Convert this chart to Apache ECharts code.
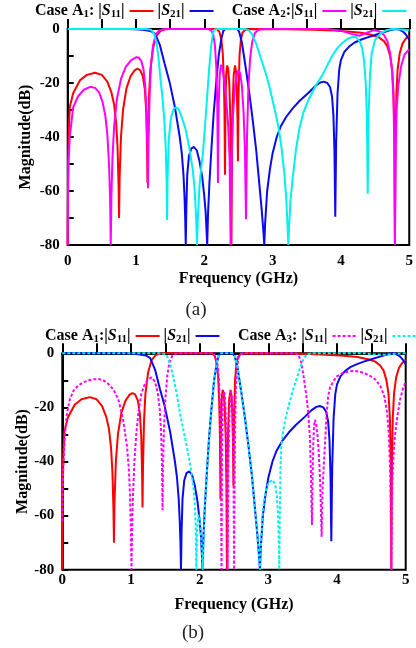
<!DOCTYPE html>
<html>
<head>
<meta charset="utf-8">
<script src="https://cdn.jsdelivr.net/npm/echarts@6/dist/echarts.min.js"></script>
<style>
  html, body { margin: 0; padding: 0; background: #fff; }
  #chart { width: 416px; height: 648px; }
</style>
</head>
<body>
<div id="chart"></div>
<script>
// Frequency responses, [frequency (GHz), magnitude (dB)]

// Case A1, |S11|
const a1S11 = [
  [0,-80],[0.005,-50],[0.015,-38],[0.03,-29],[0.08,-23.8],[0.18,-19],[0.28,-17],[0.4,-16.2],[0.5,-17],[0.58,-19.5],
  [0.64,-23.5],[0.68,-28],[0.71,-35],[0.73,-44],[0.745,-58],[0.752,-70],[0.76,-55],[0.78,-40],[0.81,-30],[0.86,-22],
  [0.92,-17.5],[0.98,-15.3],[1.02,-14.7],[1.06,-15.2],[1.1,-17.5],[1.13,-22.5],[1.15,-31],[1.162,-45],[1.168,-57],
  [1.175,-42],[1.19,-25],[1.21,-15],[1.25,-7],[1.3,-2.5],[1.36,-0.7],[1.42,-0.1],[1.5,0],
  [2.18,0],[2.22,-1],[2.25,-4],[2.27,-9],[2.285,-18],[2.295,-30],[2.303,-54],[2.31,-28],[2.32,-17],[2.335,-13.5],
  [2.35,-15],[2.365,-20],[2.38,-32],[2.39,-50],[2.397,-80],[2.405,-45],[2.415,-28],[2.43,-17],[2.45,-13.5],
  [2.465,-16],[2.475,-22],[2.485,-33],[2.492,-49],[2.5,-26],[2.515,-10],[2.535,-4],[2.56,-1.3],[2.6,-0.3],[2.7,0],
  [3.2,-0.1],[3.6,-0.3],[3.9,-0.6],[4.1,-0.9],[4.3,-1.4],[4.45,-2.2],[4.55,-3],[4.63,-4.5],[4.68,-6.5],[4.72,-10],
  [4.75,-15],[4.77,-24],[4.783,-40],[4.79,-80],[4.8,-40],[4.812,-24],[4.83,-15],[4.86,-9],[4.9,-5.5],[4.95,-3.5],[5,-2.5]
];

// Case A1, |S21|
const a1S21 = [
  [0,0],[0.9,0],[1.05,-0.2],[1.15,-0.5],[1.22,-0.8],[1.28,-1.8],[1.35,-6],[1.42,-13],[1.49,-19.5],[1.57,-29],
  [1.64,-40],[1.67,-46],[1.695,-54],[1.71,-62],[1.72,-70],[1.728,-80],[1.737,-66],[1.75,-54],[1.775,-47],[1.81,-44.2],
  [1.85,-43.7],[1.89,-45],[1.93,-49],[1.97,-55],[2.0,-62],[2.02,-68],[2.035,-76],[2.042,-80],[2.055,-68],[2.075,-57],
  [2.1,-46],[2.135,-32],[2.17,-21],[2.21,-10],[2.25,-3.5],[2.28,-0.6],[2.31,0],[2.48,0],[2.51,-1],[2.55,-5],
  [2.61,-15],[2.66,-24],[2.71,-34],[2.76,-45],[2.8,-56],[2.84,-67],[2.865,-75],[2.878,-80],[2.89,-72],[2.92,-60],
  [2.96,-52],[3.0,-46],[3.06,-40],[3.12,-36],[3.2,-32.5],[3.3,-29.2],[3.4,-26.5],[3.53,-23.5],[3.63,-21],[3.7,-19.8],
  [3.75,-19.5],[3.8,-20],[3.84,-21.5],[3.87,-25],[3.89,-32],[3.905,-45],[3.917,-69.5],[3.93,-42],[3.95,-24],
  [3.975,-15],[4.0,-11.5],[4.05,-8.5],[4.12,-6.5],[4.2,-5],[4.3,-3.9],[4.4,-3],[4.5,-2.2],[4.6,-1.4],[4.7,-0.6],
  [4.78,-0.1],[4.82,0],[4.87,-0.4],[4.92,-1.2],[4.96,-2.4],[5,-4]
];

// Case A2, |S11|
const a2S11 = [
  [0,-80],[0.005,-60],[0.015,-48],[0.03,-40],[0.08,-29],[0.15,-25],[0.23,-22.6],[0.33,-21.4],[0.4,-21.8],[0.46,-23.5],
  [0.51,-27],[0.55,-32],[0.58,-39],[0.605,-50],[0.62,-62],[0.63,-80],[0.64,-62],[0.655,-48],[0.68,-36],[0.72,-26],
  [0.78,-18.5],[0.85,-14],[0.93,-11.5],[1.0,-10.5],[1.04,-10.6],[1.08,-12],[1.11,-15],[1.135,-21],[1.155,-32],
  [1.168,-45],[1.175,-59],[1.183,-42],[1.2,-24],[1.22,-13],[1.25,-6],[1.29,-2],[1.34,-0.5],[1.4,-0.1],[1.5,0],
  [2.06,0],[2.1,-0.5],[2.13,-2],[2.155,-6],[2.175,-14],[2.19,-28],[2.2,-57],[2.21,-28],[2.225,-17],[2.245,-13.3],
  [2.265,-14.5],[2.29,-19],[2.32,-26],[2.35,-36],[2.37,-48],[2.385,-80],[2.4,-48],[2.42,-32],[2.45,-21],[2.48,-16.5],
  [2.5,-15.2],[2.525,-16.5],[2.55,-21],[2.575,-31],[2.595,-45],[2.61,-70.5],[2.625,-40],[2.645,-22],[2.67,-11],
  [2.7,-5],[2.74,-1.5],[2.8,-0.2],[2.9,0],
  [3.8,0],[4.0,-0.6],[4.15,-1.8],[4.27,-2.5],[4.38,-1.4],[4.48,-0.4],[4.56,-0.8],[4.63,-2.2],[4.68,-4.5],[4.72,-9],
  [4.75,-16],[4.77,-27],[4.782,-45],[4.79,-80],[4.8,-48],[4.815,-30],[4.84,-21],[4.88,-14],[4.93,-9.5],[5,-7.5]
];

// Case A2, |S21|
const a2S21 = [
  [0,0],[1.15,0],[1.22,-0.3],[1.26,-1.5],[1.3,-5],[1.33,-11],[1.36,-19],[1.39,-26],[1.415,-34],[1.435,-44],
  [1.448,-56],[1.455,-70.7],[1.463,-55],[1.48,-41],[1.51,-33],[1.55,-29.6],[1.59,-29],[1.63,-30],[1.68,-33.5],
  [1.73,-37.5],[1.78,-44],[1.83,-52],[1.86,-60],[1.88,-70],[1.893,-80],[1.905,-70],[1.93,-58],[1.96,-50],[1.98,-46],
  [2.03,-29],[2.07,-15],[2.1,-6.5],[2.125,-1.6],[2.15,-0.2],[2.2,0],[2.6,0],[2.65,-0.5],[2.7,-2],[2.76,-5.5],
  [2.83,-11],[2.9,-16.5],[2.95,-21],[3.0,-26.5],[3.05,-32],[3.09,-37],[3.13,-44],[3.17,-53],[3.2,-63],[3.22,-74],
  [3.23,-80],[3.24,-74],[3.26,-64],[3.29,-56],[3.34,-45],[3.39,-37],[3.45,-31],[3.53,-26],[3.63,-21],[3.73,-17],
  [3.8,-13.5],[3.87,-10],[3.95,-7],[4.02,-5.2],[4.1,-3.6],[4.17,-2.9],[4.22,-3],[4.27,-4.4],[4.31,-7],[4.34,-12],
  [4.365,-21],[4.38,-33],[4.392,-61],[4.405,-32],[4.425,-17],[4.45,-9],[4.5,-4],[4.58,-1.6],[4.66,-0.5],[4.75,0],
  [4.9,-0.2],[5,-0.5]
];

// Case A3, |S11|
const a3S11 = [
  [0,-62],[0.005,-50],[0.015,-42],[0.04,-29],[0.07,-22],[0.11,-17],[0.17,-13.5],[0.23,-12],[0.3,-10.8],[0.38,-10],
  [0.46,-9.6],[0.53,-9.5],[0.6,-10],[0.67,-11.3],[0.73,-13],[0.77,-14.5],[0.82,-17.5],[0.86,-21.5],[0.9,-27],
  [0.94,-34],[0.97,-43],[0.985,-52],[0.997,-64],[1.007,-80],[1.017,-64],[1.03,-52],[1.05,-40],[1.08,-29],
  [1.11,-21.6],[1.15,-15],[1.2,-11.5],[1.25,-9.6],[1.3,-8.9],[1.35,-10.5],[1.39,-14.5],[1.42,-21],[1.44,-30],
  [1.452,-42],[1.46,-58],[1.468,-40],[1.48,-28],[1.5,-17],[1.53,-8],[1.56,-3.3],[1.6,-1],[1.65,-0.2],[1.7,0],
  [2.2,0],[2.24,-1.5],[2.265,-5],[2.285,-12],[2.3,-25],[2.31,-45],[2.318,-80],[2.326,-40],[2.335,-22],[2.35,-14.2],
  [2.365,-15],[2.38,-22],[2.395,-40],[2.408,-80],[2.42,-40],[2.435,-22],[2.45,-14.2],[2.465,-15],[2.48,-22],
  [2.492,-42],[2.502,-80],[2.512,-38],[2.525,-15],[2.545,-5],[2.57,-1.3],[2.6,-0.2],[2.65,0],
  [3.4,0],[3.44,-0.6],[3.48,-3.5],[3.51,-8],[3.55,-15],[3.58,-21.6],[3.605,-31],[3.622,-46],[3.635,-63.5],
  [3.645,-45],[3.655,-33],[3.665,-27],[3.678,-24.6],[3.695,-26],[3.715,-30],[3.735,-37],[3.755,-48],[3.776,-67.8],
  [3.79,-50],[3.81,-40],[3.824,-34],[3.845,-24],[3.87,-16],[3.9,-12.5],[3.99,-8.6],[4.08,-7.3],[4.18,-6.7],
  [4.26,-6.5],[4.36,-7],[4.46,-8],[4.55,-9.5],[4.63,-12],[4.69,-16],[4.73,-22],[4.755,-30],[4.775,-45],[4.792,-80],
  [4.805,-48],[4.825,-36],[4.85,-29],[4.88,-23],[4.92,-17],[4.96,-13],[5,-10.5]
];

// Case A3, |S21|
const a3S21 = [
  [0,0],[1.4,0],[1.48,-0.2],[1.52,-0.6],[1.57,-4],[1.62,-9.2],[1.67,-15.5],[1.71,-21.6],[1.76,-28],[1.81,-34],
  [1.85,-39.5],[1.88,-44],[1.91,-50],[1.93,-56],[1.942,-64],[1.952,-80],[1.962,-66],[1.975,-61],[1.985,-59.7],
  [1.998,-61],[2.015,-65],[2.03,-71],[2.045,-80],[2.06,-68],[2.075,-57],[2.1,-46],[2.135,-32],[2.17,-21],[2.21,-10],
  [2.25,-3.5],[2.28,-0.6],[2.31,0],[2.48,0],[2.51,-1],[2.55,-5],[2.61,-15],[2.66,-24],[2.71,-34],[2.76,-45],
  [2.8,-56],[2.84,-67],[2.865,-75],[2.88,-80],[2.893,-70],[2.92,-58],[2.96,-51],[3.0,-48],[3.06,-46.8],[3.1,-48.5],
  [3.125,-53],[3.145,-62],[3.16,-80],[3.167,-60],[3.177,-42],[3.19,-34],[3.22,-28],[3.26,-23],[3.31,-18],
  [3.36,-13.5],[3.43,-8],[3.48,-4],[3.52,-1.7],[3.56,-0.4],[3.62,0],[4.4,0],[4.55,-0.4],[4.7,-0.5],[4.85,-0.2],[5,0]
];

// Axis ticks
const freqTicks = [0, 1, 2, 3, 4, 5];
const dbTicks = [-80, -60, -40, -20, 0];

const FONT = "'Liberation Serif','Times New Roman',serif";
const RED = '#ff0000', BLUE = '#0a0af0', MAGENTA = '#ff00ff', CYAN = '#00f0f0';

const rich = {
  t: { fontFamily: FONT, fontWeight: 'bold', fontSize: 16, color: '#000', lineHeight: 18 },
  i: { fontFamily: FONT, fontWeight: 'bold', fontStyle: 'italic', fontSize: 16, color: '#000', lineHeight: 18 },
  s: { fontFamily: FONT, fontWeight: 'bold', fontSize: 11, color: '#000', lineHeight: 10, verticalAlign: 'bottom' }
};

const legendText = {
  aA1S11: '{t|Case A}{s|1}{t|: |}{i|S}{s|11}{t||}',
  aA1S21: '{t||}{i|S}{s|21}{t||}',
  aA2S11: '{t|Case A}{s|2}{t|:|}{i|S}{s|11}{t||}',
  aA2S21: '{t||}{i|S}{s|21}{t||}',
  bA1S11: '{t|Case A}{s|1}{t|:|}{i|S}{s|11}{t||}',
  bA1S21: '{t||}{i|S}{s|21}{t||}',
  bA3S11: '{t|Case A}{s|3}{t|: |}{i|S}{s|11}{t||}',
  bA3S21: '{t||}{i|S}{s|21}{t||}'
};

// Legend keys are plain line segments (no marker in the middle)
function legend(names, left, top) {
  return {
    data: names, left: left, top: top, orient: 'horizontal', align: 'right',
    padding: 0, itemGap: 3, itemWidth: 24, itemHeight: 14, selectedMode: false,
    itemStyle: { opacity: 0 },
    formatter: n => legendText[n],
    textStyle: { rich: rich }
  };
}

function xAxis(grid, labelMargin, nameGap) {
  return {
    gridIndex: grid, type: 'value', min: 0, max: 5, interval: 0.5,
    name: 'Frequency (GHz)', nameLocation: 'middle', nameGap: nameGap, nameMoveOverlap: false,
    nameTextStyle: { fontFamily: FONT, fontWeight: 'bold', fontSize: 16, color: '#000' },
    axisLine: { lineStyle: { color: '#000', width: 2 } },
    axisTick: { inside: true, length: 10, lineStyle: { color: '#000', width: 2 } },
    axisLabel: {
      margin: labelMargin, fontFamily: FONT, fontWeight: 'bold', fontSize: 15, color: '#000',
      formatter: v => freqTicks.includes(v) ? String(v) : ''
    },
    splitLine: { show: false }
  };
}

function yAxis(grid, nameGap) {
  return {
    gridIndex: grid, type: 'value', min: -80, max: 0, interval: 10,
    name: 'Magnitude(dB)', nameLocation: 'middle', nameGap: nameGap, nameMoveOverlap: false,
    nameTextStyle: { fontFamily: FONT, fontWeight: 'bold', fontSize: 16, color: '#000' },
    axisLine: { lineStyle: { color: '#000', width: 2 } },
    axisTick: { inside: true, length: 6, lineStyle: { color: '#000', width: 2 } },
    axisLabel: {
      margin: 8, fontFamily: FONT, fontWeight: 'bold', fontSize: 15, color: '#000',
      formatter: v => dbTicks.includes(v) ? String(v) : ''
    },
    splitLine: { show: false }
  };
}

function curve(name, data, color, idx, dashed) {
  return {
    name: name, type: 'line', xAxisIndex: idx, yAxisIndex: idx, data: data,
    symbol: 'none', clip: false, smooth: false,
    lineStyle: { color: color, width: 2, type: dashed ? [3, 2] : 'solid' },
    itemStyle: { color: color }
  };
}

const chart = echarts.init(document.getElementById('chart'), null, { renderer: 'canvas' });
chart.setOption({
  animation: false,
  backgroundColor: '#fff',
  grid: [
    { left: 67.7, right: 6, top: 29, height: 216, show: true, borderColor: '#000', borderWidth: 2, backgroundColor: 'transparent' },
    { left: 62.3, right: 10.3, top: 353.3, height: 216.4, show: true, borderColor: '#000', borderWidth: 2, backgroundColor: 'transparent' }
  ],
  xAxis: [xAxis(0, 9, 26), xAxis(1, 3, 27)],
  yAxis: [yAxis(0, 34), yAxis(1, 31)],
  legend: [
    legend(['aA1S11', 'aA1S21'], 35, 3),
    legend(['aA2S11', 'aA2S21'], 231.7, 3),
    legend(['bA1S11', 'bA1S21'], 45, 328),
    legend(['bA3S11', 'bA3S21'], 238, 328)
  ],
  graphic: [
    { type: 'text', x: 196, y: 310, style: { text: '(a)', fontFamily: FONT, fontSize: 19, fill: '#222', align: 'center', verticalAlign: 'middle' } },
    { type: 'text', x: 193, y: 633, style: { text: '(b)', fontFamily: FONT, fontSize: 19, fill: '#222', align: 'center', verticalAlign: 'middle' } }
  ],
  series: [
    curve('aA1S11', a1S11, RED, 0, false),
    curve('aA1S21', a1S21, BLUE, 0, false),
    curve('aA2S11', a2S11, MAGENTA, 0, false),
    curve('aA2S21', a2S21, CYAN, 0, false),
    curve('bA1S11', a1S11, RED, 1, false),
    curve('bA1S21', a1S21, BLUE, 1, false),
    curve('bA3S11', a3S11, MAGENTA, 1, true),
    curve('bA3S21', a3S21, CYAN, 1, true)
  ]
});
</script>
</body>
</html>
